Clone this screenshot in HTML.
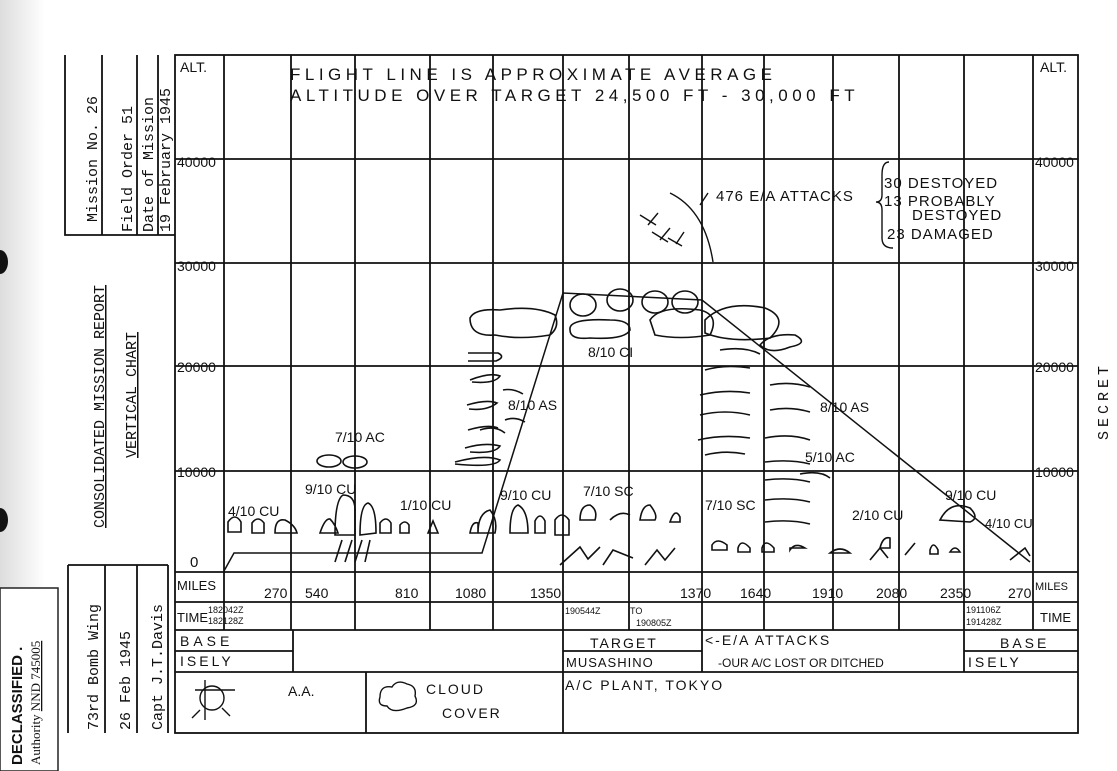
<!DOCTYPE html>
<html><head><meta charset="utf-8"><style>
html,body{margin:0;padding:0;background:#fff;}
svg{display:block}
.h{font-family:"Liberation Sans",sans-serif;fill:#111}
.m{font-family:"Liberation Mono",monospace;fill:#111}
</style></head><body>
<svg width="1117" height="771" viewBox="0 0 1117 771" xmlns="http://www.w3.org/2000/svg">
<defs>
<linearGradient id="g" x1="0" x2="1"><stop offset="0" stop-color="#bbb"/><stop offset="1" stop-color="#fff"/></linearGradient>
</defs>
<rect width="1117" height="771" fill="#fff"/>
<rect x="0" y="0" width="45" height="771" fill="url(#g)" opacity="0.5"/>
<path d="M0,250 a8,12 0 0 1 0,24z" fill="#111"/>
<path d="M0,508 a8,12 0 0 1 0,24z" fill="#111"/>
<rect x="0" y="588" width="58" height="183" fill="#fff" stroke="#222" stroke-width="1.5"/>
<text class="h" transform="translate(22,765) rotate(-90)" font-family="Liberation Serif" font-weight="bold" font-size="15">DECLASSIFIED .</text>
<text transform="translate(40,765) rotate(-90)" font-family="Liberation Serif" font-size="13" fill="#111">Authority <tspan text-decoration="underline">NND 745005</tspan></text>

<g stroke="#111" fill="none" stroke-width="1.8">
<path d="M65,55 V235 H175 M102,55 V235 M137,55 V235 M158,55 V235"/>
<path d="M68,565 V733 M105,565 V733 M137,565 V733 M168,565 V733 M68,565 H168"/>
<rect x="175" y="55" width="903" height="678"/>
<path d="M224,55 V630 M1033,55 V630"/>
<path d="M291,55 V630 M355,55 V630 M430,55 V630 M493,55 V630 M563,55 V672 M629,55 V630 M702,55 V672 M764,55 V630 M833,55 V630 M899,55 V630 M964,55 V672"/>
<path d="M175,159 H1078 M175,263 H1078 M175,366 H1078 M175,471 H1078 M175,572 H1078 M175,602 H1078 M175,630 H1078 M175,651 H293 M563,651 H702 M964,651 H1078 M175,672 H1078"/>
<path d="M293,630 V672 M366,672 V733 M563,672 V733"/>
<path d="M224,571 L234,553 H482 L563,293 L702,300 L1030,562" stroke-width="1.5"/>
<path d="M670,193 Q705,210 713,262 M700,205 L708,193 M648,225 l10,-12 M640,215 l16,10 M660,240 l10,-12 M652,232 l16,10 M676,244 l8,-12 M668,238 l14,8" stroke-width="1.4"/>
<path d="M889,162 Q882,162 882,175 V195 Q882,202 876,202 Q882,202 882,210 V238 Q882,248 893,248" stroke-width="1.4"/>
</g>
<g stroke="#111" fill="none" stroke-width="1.6">
<path d="M470,318 q5,-10 30,-8 q35,-5 55,5 q5,12 -5,20 q-30,5 -55,0 q-25,2 -25,-17z"/>
<path d="M570,330 q-2,-12 40,-10 q20,0 20,10 q-5,10 -40,8 q-20,2 -20,-8z"/>
<path d="M650,320 q10,-15 50,-10 q20,5 10,25 q-30,5 -55,0z"/>
<path d="M705,320 q20,-20 60,-12 q25,10 5,30 q-40,5 -65,-5z"/>
<path d="M760,345 q10,-12 35,-10 q15,8 -5,12 q-20,8 -30,-2z"/>
<path d="M468,353 h30 q8,4 -2,8 h-28 M470,380 q20,-8 30,-4 q-5,8 -28,6 M467,405 q20,-6 30,-2 q-10,8 -28,6 M468,430 q20,-6 30,-2 M465,448 q20,-6 35,-2 q-5,8 -30,6 M455,462 q30,-8 45,-2 q-5,8 -45,4 M480,430 q15,-5 25,3 M503,390 q10,-2 20,4 M505,420 q10,-4 20,2"/>
<path d="M705,370 q20,-6 45,-2 M700,395 q25,-6 50,-2 M700,415 q25,-6 50,0 M698,440 q25,-6 52,-2 M705,455 q20,-5 40,-1 M720,350 q25,-4 40,4 M770,385 q20,-4 40,2 M770,410 q20,-4 40,2 M765,438 q25,-5 45,2 M765,462 q25,-3 45,2 M765,480 q25,-3 45,2 M765,500 q25,-3 45,2 M765,522 q25,-3 45,2 M800,474 q20,-4 30,4"/>
<ellipse cx="329" cy="461" rx="12" ry="6"/><ellipse cx="355" cy="462" rx="12" ry="6"/>
<ellipse cx="583" cy="305" rx="13" ry="11"/><ellipse cx="620" cy="300" rx="13" ry="11"/><ellipse cx="655" cy="302" rx="13" ry="11"/><ellipse cx="685" cy="302" rx="13" ry="11"/>
<path d="M228,532 v-10 q7,-10 13,0 v10z M252,533 v-10 q6,-8 12,0 v10z M275,533 q0,-15 10,-13 q10,5 12,13z M320,533 q5,-15 10,-14 q5,5 8,14z M335,535 q0,-35 8,-40 q12,0 12,15 v25z M360,535 q0,-30 8,-32 q8,3 8,30z M380,533 v-10 q6,-8 11,0 v10z M400,533 v-8 q5,-6 9,0 v8z M428,533 l5,-12 l5,12z M470,533 q2,-12 8,-10 v10z M478,533 q0,-20 12,-23 q8,10 5,23z M510,533 q0,-25 8,-28 q10,5 10,28z M535,533 v-12 q5,-10 10,0 v12z M555,535 v-15 q7,-10 14,0 v15z M580,520 q0,-15 10,-15 q8,5 5,15z M610,520 q10,-10 20,-5 M640,520 q2,-15 10,-15 q8,10 5,15z M670,522 q5,-15 10,-5 v5z M712,545 q5,-8 15,0 v5 h-15z M738,548 q3,-10 12,0 v4 h-12z M762,548 q3,-10 12,0 v4 h-12z M790,550 q5,-8 15,-2 h-15z M830,553 q10,-8 20,0z M880,548 q3,-12 10,-10 v10z M930,550 q3,-10 8,0 v4 h-8z M950,552 q5,-8 10,0z M940,520 q10,-20 30,-12 q10,10 0,14z"/>
<path d="M335,562 l7,-22 M345,562 l7,-22 M355,562 l7,-22 M365,562 l5,-22 M560,565 l20,-18 l8,12 l12,-12 M603,565 l10,-15 l20,8 M645,565 l12,-15 l8,10 l10,-12 M870,560 l10,-12 l8,10 M905,555 l10,-12 M1010,560 l15,-12 l5,8"/>
</g>
<g class="h" font-size="16">
<text x="180" y="72" font-size="14">ALT.</text>
<text x="1040" y="72" font-size="14">ALT.</text>
<text x="290" y="80" font-size="17" letter-spacing="4.5">FLIGHT  LINE  IS  APPROXIMATE  AVERAGE</text>
<text x="290" y="101" font-size="17" letter-spacing="4.5">ALTITUDE   OVER  TARGET  24,500 FT - 30,000  FT</text>
<text x="177" y="167" font-size="14">40000</text>
<text x="177" y="271" font-size="14">30000</text>
<text x="177" y="372" font-size="14">20000</text>
<text x="177" y="477" font-size="14">10000</text>
<text x="190" y="567" font-size="15">0</text>
<text x="1035" y="167" font-size="14">40000</text>
<text x="1035" y="271" font-size="14">30000</text>
<text x="1035" y="372" font-size="14">20000</text>
<text x="1035" y="477" font-size="14">10000</text>
<text x="716" y="201" font-size="15" letter-spacing="1">476 E/A ATTACKS</text>
<text x="884" y="188" font-size="15" letter-spacing="1">30 DESTOYED</text>
<text x="884" y="206" font-size="15" letter-spacing="1">13 PROBABLY</text>
<text x="912" y="220" font-size="15" letter-spacing="1">DESTOYED</text>
<text x="887" y="239" font-size="15" letter-spacing="1">23 DAMAGED</text>
<text x="588" y="357" font-size="14">8/10 CI</text>
<text x="508" y="410" font-size="14">8/10 AS</text>
<text x="335" y="442" font-size="14">7/10 AC</text>
<text x="228" y="516" font-size="14">4/10 CU</text>
<text x="305" y="494" font-size="14">9/10 CU</text>
<text x="400" y="510" font-size="14">1/10 CU</text>
<text x="500" y="500" font-size="14">9/10 CU</text>
<text x="583" y="496" font-size="14">7/10 SC</text>
<text x="705" y="510" font-size="14">7/10 SC</text>
<text x="820" y="412" font-size="14">8/10 AS</text>
<text x="805" y="462" font-size="14">5/10 AC</text>
<text x="852" y="520" font-size="14">2/10  CU</text>
<text x="945" y="500" font-size="14">9/10 CU</text>
<text x="985" y="528" font-size="13">4/10 CU</text>
<g font-size="14">
<text x="177" y="590" font-size="13">MILES</text>
<text x="264" y="598">270</text><text x="305" y="598">540</text><text x="395" y="598">810</text><text x="455" y="598">1080</text><text x="530" y="598">1350</text>
<text x="680" y="598">1370</text><text x="740" y="598">1640</text><text x="812" y="598">1910</text><text x="876" y="598">2080</text><text x="940" y="598">2350</text><text x="1008" y="598">270</text>
<text x="1035" y="590" font-size="11">MILES</text>
<text x="177" y="622" font-size="13">TIME</text>
<text x="208" y="613" font-size="9">182042Z</text><text x="208" y="624" font-size="9">182128Z</text>
<text x="565" y="614" font-size="9">190544Z</text><text x="630" y="614" font-size="9">TO</text><text x="636" y="626" font-size="9">190805Z</text>
<text x="966" y="613" font-size="9">191106Z</text><text x="966" y="625" font-size="9">191428Z</text>
<text x="1040" y="622" font-size="13">TIME</text>
<text x="180" y="646" letter-spacing="4">BASE</text>
<text x="180" y="666" letter-spacing="3">ISELY</text>
<text x="590" y="648" letter-spacing="2">TARGET</text>
<text x="566" y="667" font-size="13" letter-spacing="1">MUSASHINO</text>
<text x="705" y="645" letter-spacing="2">&lt;-E/A ATTACKS</text>
<text x="718" y="667" font-size="12">-OUR A/C LOST OR DITCHED</text>
<text x="1000" y="648" letter-spacing="3">BASE</text>
<text x="968" y="667" letter-spacing="3">ISELY</text>
<text x="288" y="696">A.A.</text>
<text x="426" y="694" letter-spacing="2">CLOUD</text>
<text x="442" y="718" letter-spacing="2">COVER</text>
<text x="565" y="690" letter-spacing="2">A/C PLANT, TOKYO</text>
</g>
</g>
<g stroke="#111" fill="none" stroke-width="1.4">
<ellipse cx="212" cy="698" rx="12" ry="12"/><path d="M195,690 h40 M205,680 v40 M200,710 l-8,8 M222,708 l8,8"/>
<path d="M380,697 q0,-12 12,-10 q5,-8 15,-3 q10,2 8,12 q5,10 -8,12 q-15,6 -20,-2 q-10,0 -7,-9z"/>
</g>
<g class="m" font-size="15">
<text transform="translate(97,222) rotate(-90)">Mission No. 26</text>
<text transform="translate(132,232) rotate(-90)">Field Order 51</text>
<text transform="translate(153,232) rotate(-90)">Date of Mission</text>
<text transform="translate(170,232) rotate(-90)">19 February 1945</text>
<text transform="translate(104,528) rotate(-90)" text-decoration="underline">CONSOLIDATED MISSION REPORT</text>
<text transform="translate(136,458) rotate(-90)" text-decoration="underline">VERTICAL CHART</text>
<text transform="translate(98,730) rotate(-90)">73rd Bomb Wing</text>
<text transform="translate(130,730) rotate(-90)">26 Feb 1945</text>
<text transform="translate(162,730) rotate(-90)">Capt J.T.Davis</text>
<text transform="translate(1108,440) rotate(-90)" letter-spacing="4">SECRET</text>
</g>
</svg>
</body></html>
